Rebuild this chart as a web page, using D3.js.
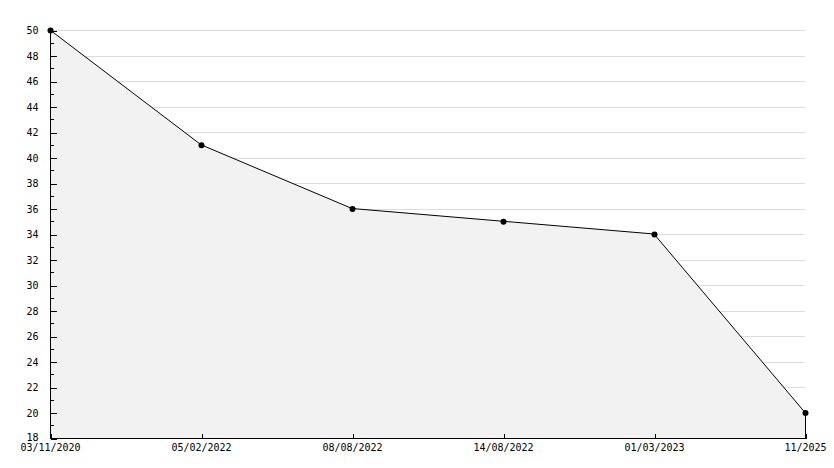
<!DOCTYPE html>
<html><head><meta charset="utf-8">
<script src="https://cdn.jsdelivr.net/npm/d3@7"></script>
<style>body{margin:0;background:#fff}svg{display:block}</style>
</head><body>
<script>
const categories = ["03/11/2020","05/02/2022","08/08/2022","14/08/2022","01/03/2023","11/2025"];
const values = [50, 41, 36, 35, 34, 20];
const yMajorTicks = [18,20,22,24,26,28,30,32,34,36,38,40,42,44,46,48,50];
const yMinorTicks = [19,21,23,25,27,29,31,33,35,37,39,41,43,45,47,49];

const W = 834, H = 468;
const m = {l:50, r:29, t:30, b:30};
const svg = d3.select("body").append("svg").attr("width", W).attr("height", H);
const x = d3.scalePoint().domain(categories).range([m.l, W - m.r]);
const y = d3.scaleLinear().domain([18, 50]).range([H - m.b, m.t]);
const font = "'DejaVu Sans Mono', monospace";

// grid
svg.append("g").attr("shape-rendering", "crispEdges").selectAll("line").data(yMajorTicks.filter(v => v > 18)).join("line")
  .attr("x1", m.l).attr("x2", W - m.r)
  .attr("y1", d => Math.round(y(d)) + 0.5).attr("y2", d => Math.round(y(d)) + 0.5)
  .attr("stroke", "#dcdcdc").attr("stroke-width", 1);

const data = categories.map((c, i) => ({c, v: values[i]}));

// area
const area = d3.area().x(d => x(d.c)).y0(y(18)).y1(d => y(d.v));
svg.append("path").datum(data).attr("d", area).attr("fill", "#f2f2f2");

// line
const line = d3.line().x(d => x(d.c)).y(d => y(d.v));
svg.append("path").datum(data).attr("d", line).attr("fill", "none").attr("stroke", "#000").attr("stroke-width", 1);

// right vertical edge
svg.append("line").attr("shape-rendering", "crispEdges")
  .attr("x1", x(categories[categories.length-1]) + 0.5).attr("x2", x(categories[categories.length-1]) + 0.5)
  .attr("y1", y(values[values.length-1])).attr("y2", y(18)).attr("stroke", "#000");

// y axis
const yAxis = svg.append("g").attr("transform", `translate(${m.l + 0.5},0)`).attr("shape-rendering", "crispEdges")
  .call(d3.axisLeft(y).tickValues(yMajorTicks).tickSize(-6).tickPadding(12).tickFormat(d3.format("d")));
yAxis.select(".domain").attr("d", `M0,${y(50)}V${y(18)}`);
yAxis.selectAll(".tick line").attr("transform", "translate(0,0.5)");
yAxis.selectAll("text").attr("font-family", font).attr("font-size", 10).attr("fill", "#000")
  .attr("dy", "0.36em");
yAxis.selectAll(".tick").filter(d => d === 18).select("text").attr("dy", "0.2em");
svg.append("g").attr("shape-rendering", "crispEdges").selectAll("line").data(yMinorTicks).join("line")
  .attr("x1", m.l).attr("x2", m.l + 4)
  .attr("y1", d => Math.round(y(d)) + 0.5).attr("y2", d => Math.round(y(d)) + 0.5)
  .attr("stroke", "#000");

// x axis
const xAxis = svg.append("g").attr("transform", `translate(0,${y(18) + 0.5})`).attr("shape-rendering", "crispEdges")
  .call(d3.axisBottom(x).tickSize(-5).tickPadding(5));
xAxis.select(".domain").attr("d", `M${m.l},0H${W - m.r + 1}`);
xAxis.selectAll(".tick line").attr("transform", "translate(0.5,0)");
xAxis.selectAll("text").attr("font-family", font).attr("font-size", 10).attr("fill", "#000").attr("dy", "0.75em");

// markers
svg.append("g").selectAll("circle").data(data).join("circle")
  .attr("cx", d => x(d.c) + 0.5).attr("cy", d => y(d.v) + 0.5).attr("r", 3).attr("fill", "#000");
</script>
</body></html>
